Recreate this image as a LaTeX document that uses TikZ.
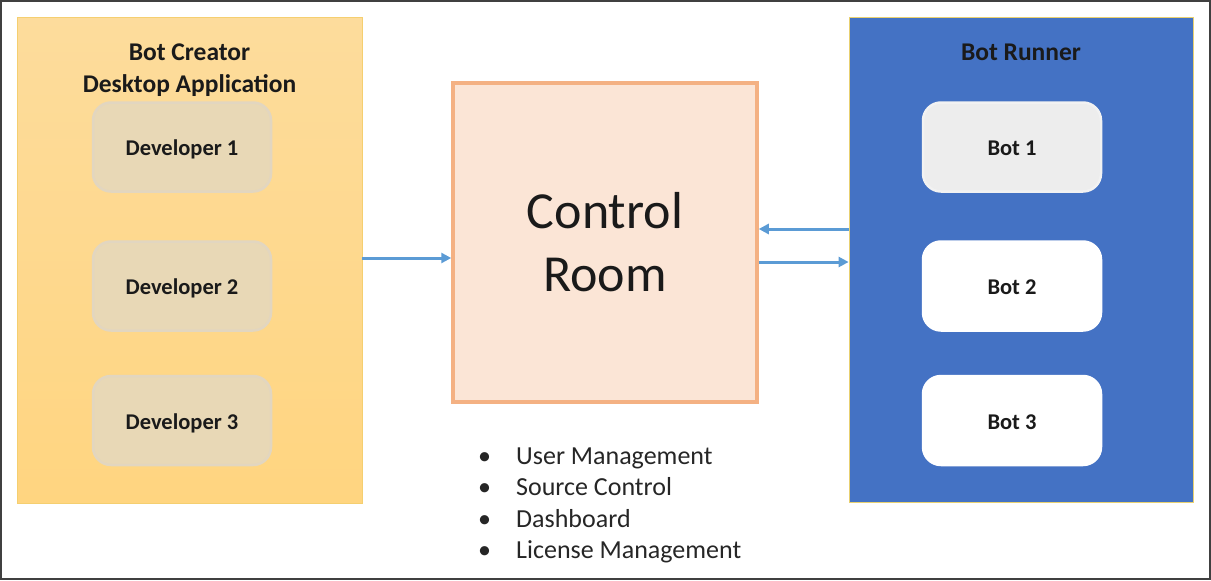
\documentclass[tikz,border=0pt]{standalone}
\usepackage{fontspec}
\setmainfont{Carlito}
\usetikzlibrary{arrows.meta}

\definecolor{frameline}{HTML}{404040}
\definecolor{creatortop}{HTML}{FDDC9C}
\definecolor{creatorbot}{HTML}{FFD580}
\definecolor{creatorline}{HTML}{F5CF70}
\definecolor{devfill}{HTML}{E8D8B6}
\definecolor{devline}{HTML}{E2D6C0}
\definecolor{crfill}{HTML}{FBE5D6}
\definecolor{crline}{HTML}{F4B183}
\definecolor{runnerfill}{HTML}{4472C4}
\definecolor{runnerline}{HTML}{E8D070}
\definecolor{botgray}{HTML}{EDEDED}
\definecolor{flow}{HTML}{5B9BD5}
\definecolor{ink}{HTML}{1A1A1A}
\definecolor{listink}{HTML}{262626}

\begin{document}
\begin{tikzpicture}[x=1pt,y=-1pt,
  panel/.style={draw, line width=0.8pt, inner sep=0pt},
  heading/.style={font=\fontsize{25.5}{32}\selectfont\bfseries, text=ink, align=center},
  itembox/.style={rounded corners=18pt, line width=2.5pt, minimum width=178pt,
    minimum height=89pt, inner sep=0pt, text height=1.72em, text depth=0pt,
    font=\fontsize{22.5}{26}\selectfont\bfseries, text=ink},
  devbox/.style={itembox, draw=devline, fill=devfill},
  botbox/.style={itembox, draw=white, fill=white},
  flowarrow/.style={draw=flow, line width=3pt, -{Triangle[length=10pt,width=10pt]}},
  listitem/.style={anchor=mid west, inner sep=0pt, font=\fontsize{26}{30}\selectfont, text=listink}
]
\useasboundingbox (0,0) rectangle (1211,581);
\draw[frameline, line width=2pt] (1,1) rectangle (1210,579);

% Bot Creator panel
\node[panel, draw=creatorline, top color=creatortop, bottom color=creatorbot,
  minimum width=345pt, minimum height=486pt] (creator) at (189.5,260) {};
\node[heading] (creatortitle) at (189.5,70) {Bot Creator\\Desktop Application};
\node[devbox] (dev1) at (182,147) {Developer 1};
\node[devbox] (dev2) at (182,286) {Developer 2};
\node[devbox] (dev3) at (182,420.5) {Developer 3};

% Control Room
\node[draw=crline, fill=crfill, line width=3.5pt, minimum width=304pt,
  minimum height=319pt, inner sep=0pt] (control) at (605,242.5) {};
\node[font=\fontsize{52}{63}\selectfont, text=ink, align=center] (controltext)
  at (605,242) {Control\\Room};

% Bot Runner panel
\node[panel, draw=runnerline, fill=runnerfill,
  minimum width=344pt, minimum height=485pt] (runner) at (1021,259.5) {};
\node[heading] (runnertitle) at (1021,52) {Bot Runner};
\node[itembox, draw=botgray!70, fill=botgray] (bot1) at (1012,147) {Bot 1};
\node[botbox] (bot2) at (1012,286) {Bot 2};
\node[botbox] (bot3) at (1012,420.5) {Bot 3};

% Connectors
\draw[flowarrow] (creator.east |- 0,258) -- (control.west |- 0,258);
\draw[flowarrow] (runner.west |- 0,229) -- (control.east |- 0,229);
\draw[flowarrow] (control.east |- 0,262) -- (runner.west |- 0,262);

% Control Room features
\foreach \txt [count=\i] in {User Management, Source Control, Dashboard, License Management}{
  \node[listitem] (bullet\i) at (478,430.5+31.5*\i) {•};
  \node[listitem] (feature\i) at (516,430.5+31.5*\i) {\txt};
}
\end{tikzpicture}
\end{document}
